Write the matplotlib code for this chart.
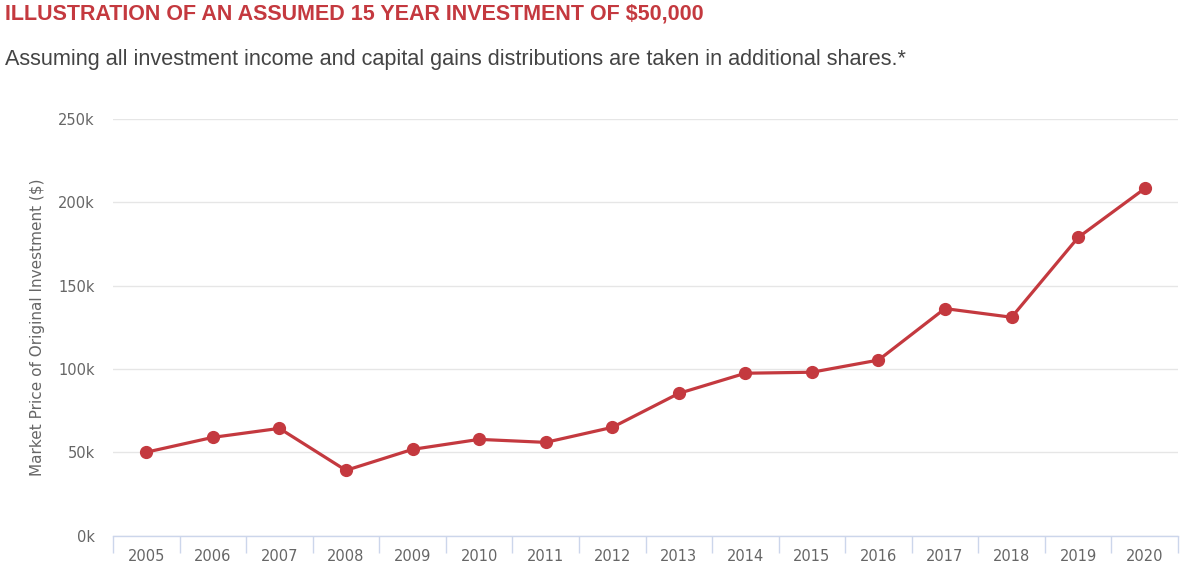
import matplotlib
matplotlib.use("Agg")
import matplotlib.pyplot as plt
import numpy as np

years = ["2005", "2006", "2007", "2008", "2009", "2010", "2011", "2012",
         "2013", "2014", "2015", "2016", "2017", "2018", "2019", "2020"]
values = [50000, 58900, 64300, 39100, 51700, 57700, 55900, 64900,
          85300, 97400, 98000, 105300, 136200, 131000, 178900, 208300]
yticks = [0, 50000, 100000, 150000, 200000, 250000]
ytick_labels = ["0k", "50k", "100k", "150k", "200k", "250k"]

title = "ILLUSTRATION OF AN ASSUMED 15 YEAR INVESTMENT OF $50,000"
subtitle = "Assuming all investment income and capital gains distributions are taken in additional shares.*"
ylabel = "Market Price of Original Investment ($)"

W, H = 1188, 573
fig = plt.figure(figsize=(W / 100, H / 100), dpi=100)
ax = fig.add_axes([113 / W, (H - 535.5) / H, (1178 - 113) / W, (535.5 - 119) / H])

red = "#c4393f"
x = np.arange(len(years))
ax.plot(x, values, color=red, lw=2.3, marker="o", ms=8.5, mec=red, mfc=red, zorder=3)

ax.set_xlim(-0.5, len(years) - 0.5)
ax.set_ylim(0, 250000)
ax.set_yticks(yticks)
ax.set_yticklabels(ytick_labels)
ax.set_xticks(x)
ax.set_xticklabels(years)
ax.set_xticks(np.arange(-0.5, len(years), 1.0), minor=True)

for s in ["top", "right", "left"]:
    ax.spines[s].set_visible(False)
ax.spines["bottom"].set_color("#ccd6eb")
ax.spines["bottom"].set_linewidth(1)

ax.grid(axis="y", color="#e6e6e6", lw=1)
ax.set_axisbelow(True)

ax.tick_params(axis="y", length=0, pad=13, labelsize=10.5, labelcolor="#666666")
ax.tick_params(axis="x", which="major", length=0, pad=10, labelsize=10.5, labelcolor="#666666")
ax.tick_params(axis="x", which="minor", length=12, width=1, color="#ccd6eb", direction="out")
for lab in ax.get_xticklabels() + ax.get_yticklabels():
    lab.set_fontfamily("DejaVu Sans")

ax.set_ylabel(ylabel, fontsize=11, color="#666666", family="DejaVu Sans")
ax.yaxis.set_label_coords((45 - 113) / (1178 - 113), 0.5)

fig.text(5 / W, 1 - 14 / H, title, color=red, fontsize=15.5, fontweight="bold",
         family="Liberation Sans", va="center", ha="left")
fig.text(5 / W, 1 - 60 / H, subtitle, color="#444444", fontsize=15.6,
         family="Liberation Sans", va="center", ha="left")

fig.savefig("out.png", dpi=100)
